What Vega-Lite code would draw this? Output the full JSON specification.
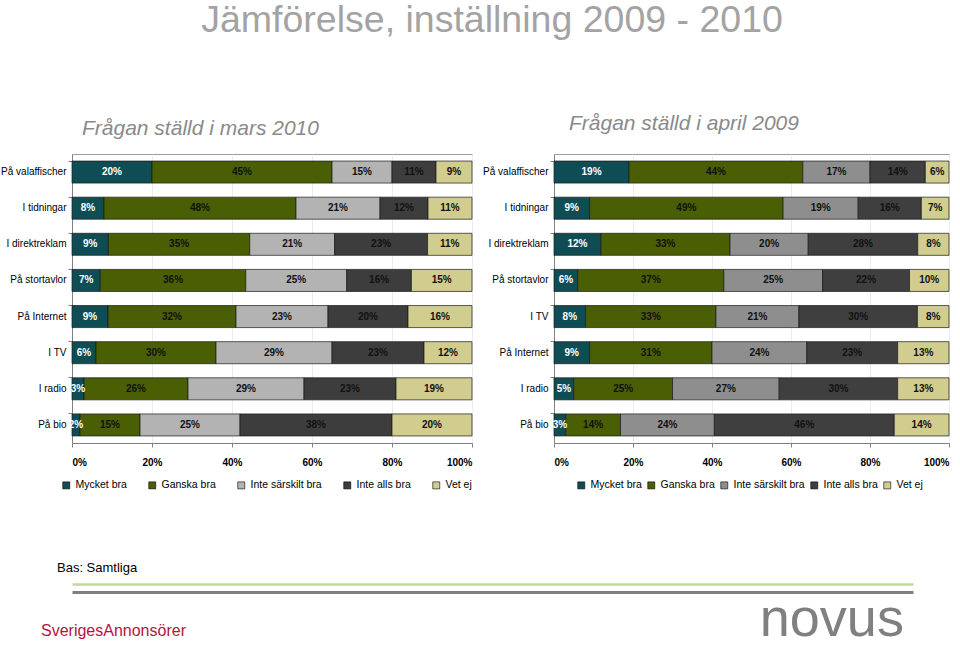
{
  "$schema": "https://vega.github.io/schema/vega-lite/v6.json",
  "background": "white",
  "padding": {"left": 0, "top": 2, "right": 0, "bottom": 0},
  "title": {"text": "Jämförelse, inställning 2009 - 2010", "fontSize": 37.5, "font": "Liberation Sans", "fontWeight": "normal", "color": "#a3a3a3", "anchor": "middle", "offset": 73, "dx": 17},
  "config": {
    "view": {"stroke": "#9a9a9a", "strokeWidth": 1},
    "axis": {"labelFont": "Liberation Sans", "labelFontSize": 10, "labelColor": "#000", "domainColor": "#808080", "tickColor": "#808080", "titleFontSize": 11},
    "legend": {"labelFont": "Liberation Sans", "labelFontSize": 10.5, "labelColor": "#000"}
  },
  "datasets": {
    "mars2010": [
      {"medium": "På valaffischer", "category": "Mycket bra", "k": 1, "value": 0.20},
      {"medium": "På valaffischer", "category": "Ganska bra", "k": 2, "value": 0.45},
      {"medium": "På valaffischer", "category": "Inte särskilt bra", "k": 3, "value": 0.15},
      {"medium": "På valaffischer", "category": "Inte alls bra", "k": 4, "value": 0.11},
      {"medium": "På valaffischer", "category": "Vet ej", "k": 5, "value": 0.09},
      {"medium": "I tidningar", "category": "Mycket bra", "k": 1, "value": 0.08},
      {"medium": "I tidningar", "category": "Ganska bra", "k": 2, "value": 0.48},
      {"medium": "I tidningar", "category": "Inte särskilt bra", "k": 3, "value": 0.21},
      {"medium": "I tidningar", "category": "Inte alls bra", "k": 4, "value": 0.12},
      {"medium": "I tidningar", "category": "Vet ej", "k": 5, "value": 0.11},
      {"medium": "I direktreklam", "category": "Mycket bra", "k": 1, "value": 0.09},
      {"medium": "I direktreklam", "category": "Ganska bra", "k": 2, "value": 0.35},
      {"medium": "I direktreklam", "category": "Inte särskilt bra", "k": 3, "value": 0.21},
      {"medium": "I direktreklam", "category": "Inte alls bra", "k": 4, "value": 0.23},
      {"medium": "I direktreklam", "category": "Vet ej", "k": 5, "value": 0.11},
      {"medium": "På stortavlor", "category": "Mycket bra", "k": 1, "value": 0.07},
      {"medium": "På stortavlor", "category": "Ganska bra", "k": 2, "value": 0.36},
      {"medium": "På stortavlor", "category": "Inte särskilt bra", "k": 3, "value": 0.25},
      {"medium": "På stortavlor", "category": "Inte alls bra", "k": 4, "value": 0.16},
      {"medium": "På stortavlor", "category": "Vet ej", "k": 5, "value": 0.15},
      {"medium": "På Internet", "category": "Mycket bra", "k": 1, "value": 0.09},
      {"medium": "På Internet", "category": "Ganska bra", "k": 2, "value": 0.32},
      {"medium": "På Internet", "category": "Inte särskilt bra", "k": 3, "value": 0.23},
      {"medium": "På Internet", "category": "Inte alls bra", "k": 4, "value": 0.20},
      {"medium": "På Internet", "category": "Vet ej", "k": 5, "value": 0.16},
      {"medium": "I TV", "category": "Mycket bra", "k": 1, "value": 0.06},
      {"medium": "I TV", "category": "Ganska bra", "k": 2, "value": 0.30},
      {"medium": "I TV", "category": "Inte särskilt bra", "k": 3, "value": 0.29},
      {"medium": "I TV", "category": "Inte alls bra", "k": 4, "value": 0.23},
      {"medium": "I TV", "category": "Vet ej", "k": 5, "value": 0.12},
      {"medium": "I radio", "category": "Mycket bra", "k": 1, "value": 0.03},
      {"medium": "I radio", "category": "Ganska bra", "k": 2, "value": 0.26},
      {"medium": "I radio", "category": "Inte särskilt bra", "k": 3, "value": 0.29},
      {"medium": "I radio", "category": "Inte alls bra", "k": 4, "value": 0.23},
      {"medium": "I radio", "category": "Vet ej", "k": 5, "value": 0.19},
      {"medium": "På bio", "category": "Mycket bra", "k": 1, "value": 0.02},
      {"medium": "På bio", "category": "Ganska bra", "k": 2, "value": 0.15},
      {"medium": "På bio", "category": "Inte särskilt bra", "k": 3, "value": 0.25},
      {"medium": "På bio", "category": "Inte alls bra", "k": 4, "value": 0.38},
      {"medium": "På bio", "category": "Vet ej", "k": 5, "value": 0.20}
    ],
    "april2009": [
      {"medium": "På valaffischer", "category": "Mycket bra", "k": 1, "value": 0.19},
      {"medium": "På valaffischer", "category": "Ganska bra", "k": 2, "value": 0.44},
      {"medium": "På valaffischer", "category": "Inte särskilt bra", "k": 3, "value": 0.17},
      {"medium": "På valaffischer", "category": "Inte alls bra", "k": 4, "value": 0.14},
      {"medium": "På valaffischer", "category": "Vet ej", "k": 5, "value": 0.06},
      {"medium": "I tidningar", "category": "Mycket bra", "k": 1, "value": 0.09},
      {"medium": "I tidningar", "category": "Ganska bra", "k": 2, "value": 0.49},
      {"medium": "I tidningar", "category": "Inte särskilt bra", "k": 3, "value": 0.19},
      {"medium": "I tidningar", "category": "Inte alls bra", "k": 4, "value": 0.16},
      {"medium": "I tidningar", "category": "Vet ej", "k": 5, "value": 0.07},
      {"medium": "I direktreklam", "category": "Mycket bra", "k": 1, "value": 0.12},
      {"medium": "I direktreklam", "category": "Ganska bra", "k": 2, "value": 0.33},
      {"medium": "I direktreklam", "category": "Inte särskilt bra", "k": 3, "value": 0.20},
      {"medium": "I direktreklam", "category": "Inte alls bra", "k": 4, "value": 0.28},
      {"medium": "I direktreklam", "category": "Vet ej", "k": 5, "value": 0.08},
      {"medium": "På stortavlor", "category": "Mycket bra", "k": 1, "value": 0.06},
      {"medium": "På stortavlor", "category": "Ganska bra", "k": 2, "value": 0.37},
      {"medium": "På stortavlor", "category": "Inte särskilt bra", "k": 3, "value": 0.25},
      {"medium": "På stortavlor", "category": "Inte alls bra", "k": 4, "value": 0.22},
      {"medium": "På stortavlor", "category": "Vet ej", "k": 5, "value": 0.10},
      {"medium": "I TV", "category": "Mycket bra", "k": 1, "value": 0.08},
      {"medium": "I TV", "category": "Ganska bra", "k": 2, "value": 0.33},
      {"medium": "I TV", "category": "Inte särskilt bra", "k": 3, "value": 0.21},
      {"medium": "I TV", "category": "Inte alls bra", "k": 4, "value": 0.30},
      {"medium": "I TV", "category": "Vet ej", "k": 5, "value": 0.08},
      {"medium": "På Internet", "category": "Mycket bra", "k": 1, "value": 0.09},
      {"medium": "På Internet", "category": "Ganska bra", "k": 2, "value": 0.31},
      {"medium": "På Internet", "category": "Inte särskilt bra", "k": 3, "value": 0.24},
      {"medium": "På Internet", "category": "Inte alls bra", "k": 4, "value": 0.23},
      {"medium": "På Internet", "category": "Vet ej", "k": 5, "value": 0.13},
      {"medium": "I radio", "category": "Mycket bra", "k": 1, "value": 0.05},
      {"medium": "I radio", "category": "Ganska bra", "k": 2, "value": 0.25},
      {"medium": "I radio", "category": "Inte särskilt bra", "k": 3, "value": 0.27},
      {"medium": "I radio", "category": "Inte alls bra", "k": 4, "value": 0.30},
      {"medium": "I radio", "category": "Vet ej", "k": 5, "value": 0.13},
      {"medium": "På bio", "category": "Mycket bra", "k": 1, "value": 0.03},
      {"medium": "På bio", "category": "Ganska bra", "k": 2, "value": 0.14},
      {"medium": "På bio", "category": "Inte särskilt bra", "k": 3, "value": 0.24},
      {"medium": "På bio", "category": "Inte alls bra", "k": 4, "value": 0.46},
      {"medium": "På bio", "category": "Vet ej", "k": 5, "value": 0.14}
    ]
  },
  "bounds": "flush",
  "spacing": 438,
  "vconcat": [
    {
      "bounds": "flush",
      "spacing": 82,
      "resolve": {"scale": {"color": "independent"}, "legend": {"color": "independent"}},
      "hconcat": [
        {
          "title": {"text": "Frågan ställd i mars 2010", "frame": "group", "anchor": "start", "dx": 10, "offset": 15, "fontSize": 21, "fontStyle": "italic", "fontWeight": "normal", "color": "#8a8a8a", "font": "Liberation Sans"},
          "width": 400,
          "height": 289,
          "data": {"name": "mars2010"},
          "transform": [
            {"stack": "value", "groupby": ["medium"], "sort": [{"field": "k", "order": "ascending"}], "offset": "normalize", "as": ["v0", "v1"]},
            {"calculate": "(datum.v0 + datum.v1) / 2", "as": "mid"}
          ],
          "encoding": {
            "y": {"field": "medium", "type": "nominal", "sort": ["På valaffischer", "I tidningar", "I direktreklam", "På stortavlor", "På Internet", "I TV", "I radio", "På bio"], "scale": {"paddingInner": 0.39, "paddingOuter": 0.195}, "axis": {"title": null, "bandPosition": 0, "tickSize": 4, "labelPadding": 2}}
          },
          "layer": [
            {
              "mark": {"type": "bar", "stroke": "#1a1a1a", "strokeWidth": 0.7},
              "encoding": {
                "x": {"field": "v0", "type": "quantitative", "title": null, "scale": {"domain": [0, 1]}, "axis": {"format": ".0%", "values": [0, 0.2, 0.4, 0.6, 0.8, 1], "title": null, "tickSize": 4, "labelPadding": 10, "labelFontWeight": "bold", "labelFontSize": 10, "gridColor": "#ececec"}},
                "x2": {"field": "v1"},
                "color": {"field": "category", "type": "nominal", "scale": {"domain": ["Mycket bra", "Ganska bra", "Inte särskilt bra", "Inte alls bra", "Vet ej"], "range": ["#0f4d54", "#4a5e04", "#b3b3b3", "#3d3d3d", "#d0cd8e"]},
                  "legend": {"orient": "none", "legendX": -11, "legendY": 326, "direction": "horizontal", "title": null, "symbolType": "square", "symbolSize": 49, "symbolStrokeColor": "#000", "symbolStrokeWidth": 0.6, "columnPadding": 20}}
              }
            },
            {
              "mark": {"type": "text", "fontWeight": "bold", "fontSize": 10, "font": "Liberation Sans"},
              "encoding": {
                "x": {"field": "mid", "type": "quantitative", "title": null, "axis": {"format": ".0%", "values": [0, 0.2, 0.4, 0.6, 0.8, 1], "title": null, "tickSize": 4, "labelPadding": 10, "labelFontWeight": "bold", "labelFontSize": 10, "gridColor": "#ececec"}},
                "text": {"field": "value", "type": "quantitative", "format": ".0%"},
                "color": {"condition": {"test": "datum.category === 'Mycket bra'", "value": "#ffffff"}, "value": "#111111"}
              }
            }
          ]
        },
        {
          "title": {"text": "Frågan ställd i april 2009", "frame": "group", "anchor": "start", "dx": 15, "offset": 20, "fontSize": 21, "fontStyle": "italic", "fontWeight": "normal", "color": "#8a8a8a", "font": "Liberation Sans"},
          "width": 395,
          "height": 289,
          "data": {"name": "april2009"},
          "transform": [
            {"stack": "value", "groupby": ["medium"], "sort": [{"field": "k", "order": "ascending"}], "offset": "normalize", "as": ["v0", "v1"]},
            {"calculate": "(datum.v0 + datum.v1) / 2", "as": "mid"}
          ],
          "encoding": {
            "y": {"field": "medium", "type": "nominal", "sort": ["På valaffischer", "I tidningar", "I direktreklam", "På stortavlor", "I TV", "På Internet", "I radio", "På bio"], "scale": {"paddingInner": 0.39, "paddingOuter": 0.195}, "axis": {"title": null, "bandPosition": 0, "tickSize": 4, "labelPadding": 2}}
          },
          "layer": [
            {
              "mark": {"type": "bar", "stroke": "#1a1a1a", "strokeWidth": 0.7},
              "encoding": {
                "x": {"field": "v0", "type": "quantitative", "title": null, "scale": {"domain": [0, 1]}, "axis": {"format": ".0%", "values": [0, 0.2, 0.4, 0.6, 0.8, 1], "title": null, "tickSize": 4, "labelPadding": 10, "labelFontWeight": "bold", "labelFontSize": 10, "gridColor": "#ececec"}},
                "x2": {"field": "v1"},
                "color": {"field": "category", "type": "nominal", "scale": {"domain": ["Mycket bra", "Ganska bra", "Inte särskilt bra", "Inte alls bra", "Vet ej"], "range": ["#0f4d54", "#4a5e04", "#8e8e8e", "#3f3f3f", "#d0cd8e"]},
                  "legend": {"orient": "none", "legendX": 22, "legendY": 326, "direction": "horizontal", "title": null, "symbolType": "square", "symbolSize": 49, "symbolStrokeColor": "#000", "symbolStrokeWidth": 0.6, "columnPadding": 4}}
              }
            },
            {
              "mark": {"type": "text", "fontWeight": "bold", "fontSize": 10, "font": "Liberation Sans"},
              "encoding": {
                "x": {"field": "mid", "type": "quantitative", "title": null, "axis": {"format": ".0%", "values": [0, 0.2, 0.4, 0.6, 0.8, 1], "title": null, "tickSize": 4, "labelPadding": 10, "labelFontWeight": "bold", "labelFontSize": 10, "gridColor": "#ececec"}},
                "text": {"field": "value", "type": "quantitative", "format": ".0%"},
                "color": {"condition": {"test": "datum.category === 'Mycket bra'", "value": "#ffffff"}, "value": "#111111"}
              }
            }
          ]
        }
      ]
    },
    {
      "width": 841,
      "height": 50,
      "view": {"stroke": null},
      "title": {"text": "Bas: Samtliga", "frame": "group", "anchor": "start", "dx": -15, "offset": 9, "fontSize": 13, "fontWeight": "normal", "color": "#000000", "font": "Liberation Sans"},
      "data": {"values": [
        {"side": "left", "row": "logos", "logo": "SverigesAnnonsörer"},
        {"side": "right", "row": "logos", "logo": "novus"}
      ]},
      "mark": {"type": "text", "align": "left", "baseline": "alphabetic", "font": "Liberation Sans", "dx": -31, "dy": 44},
      "encoding": {
        "x": {"field": "side", "type": "nominal", "bandPosition": 0, "scale": {"type": "band", "domain": ["left", "right"], "paddingInner": 0.83, "paddingOuter": 0}, "axis": {"orient": "top", "offset": 8, "domainColor": "#c4d79b", "domainWidth": 2.5, "labels": false, "ticks": false, "title": null, "grid": false}},
        "y": {"field": "row", "type": "nominal", "scale": {"type": "point", "padding": 0, "align": 0}, "axis": {"grid": true, "gridColor": "#7f7f7f", "gridWidth": 3, "labels": false, "ticks": false, "domain": false, "title": null}},
        "text": {"field": "logo", "type": "nominal"},
        "color": {"condition": {"test": "datum.side === 'left'", "value": "#b5123f"}, "value": "#808080"},
        "size": {"condition": {"test": "datum.side === 'left'", "value": 16}, "value": 54}
      }
    }
  ]
}
